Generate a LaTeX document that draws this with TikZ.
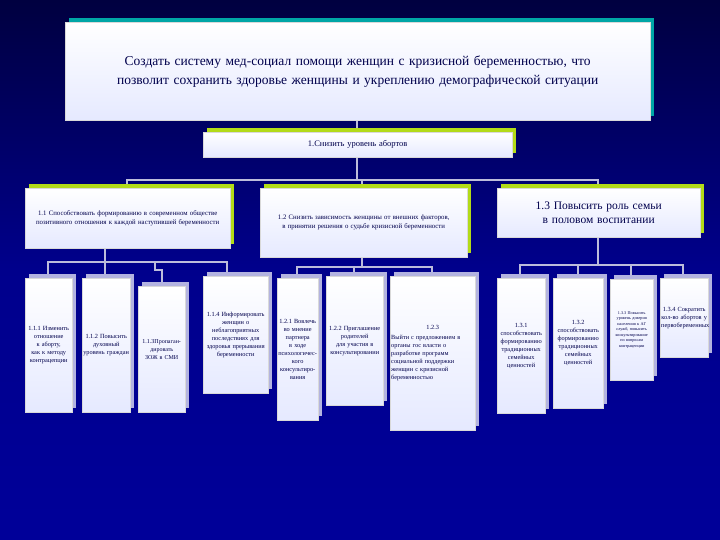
\documentclass[tikz,border=0pt]{standalone}
\usepackage{fontspec}
\setmainfont{Liberation Serif}
\begin{document}
\begin{tikzpicture}[x=1pt,y=-1pt,
 bx/.style={draw=white!70!gray,line width=0.4pt,top color=white,bottom color=cyan!15!blue!10,text=blue!30!black,align=center,inner sep=1pt,anchor=north west},
 line/.style={draw=gray!70!blue!40,line width=2pt}]
\shade[top color=blue!25!black,bottom color=blue!60!black,middle color=blue!55!black] (0,0) rectangle (720,540);
\useasboundingbox (0,0) rectangle (720,540);
\newcommand{\bxx}[8]{% name x1 y1 x2 y2 shadowcolor font text
 \fill[#6] (#2+4,#3-4) rectangle (#4+4,#5-4);
 \node[bx,minimum width=#4-#2,minimum height=#5-#3,text width=#4-#2-2,font=#7] (#1) at (#2,#3) {#8};}
% connectors
\draw[line] (357,120) -- (357,180);
\draw[line] (127,187) |- (598,180) -- (598,187);
\draw[line] (362,180) -- (362,187);
\draw[line] (105,248) -- (105,262);
\draw[line] (48,277) |- (227,262) -- (227,275);
\draw[line] (105,262) -- (105,278);
\draw[line] (155,262) -- (155,270) -- (162,270) -- (162,285);
\draw[line] (362,257) -- (362,267);
\draw[line] (297,277) |- (432,267) -- (432,275);
\draw[line] (354,267) -- (354,275);
\draw[line] (598,237) -- (598,265);
\draw[line] (520,277) |- (683,265) -- (683,277);
\draw[line] (578,265) -- (578,277);
\draw[line] (631,265) -- (631,278);
% boxes
\bxx{top}{65}{22}{650}{120}{teal!70!cyan}{\fontsize{13.5}{19}\selectfont}{Создать систему мед-социал помощи женщин с кризисной беременностью, что позволит сохранить здоровье женщины и укреплению демографической ситуации}
\bxx{l1}{203}{132}{512}{157}{yellow!70!green}{\fontsize{8.5}{10}\selectfont}{1.Снизить уровень абортов}
\bxx{a}{25}{188}{230}{248}{yellow!70!green}{\fontsize{6.8}{9}\selectfont}{1.1 Способствовать формированию в современном обществе позитивного отношения к каждой наступившей беременности}
\bxx{b}{260}{188}{467}{257}{yellow!70!green}{\fontsize{6.8}{9}\selectfont}{1.2 Снизить зависимость женщины от внешних факторов, в принятии решения о судьбе кризисной беременности}
\bxx{c}{497}{188}{700}{237}{yellow!70!green}{\fontsize{11.5}{14}\selectfont}{1.3 Повысить роль семьи в половом воспитании}
\def\sc{cyan!20!blue!30}
\bxx{a1}{25}{278}{72}{412}{\sc}{\fontsize{6.3}{8}\selectfont}{1.1.1 Изменить отношение к аборту, как к методу контрацепции}
\bxx{a2}{82}{278}{130}{412}{\sc}{\fontsize{6.3}{8}\selectfont}{1.1.2 Повысить духовный уровень граждан}
\bxx{a3}{138}{286}{185}{412}{\sc}{\fontsize{6}{8}\selectfont}{1.1.3Пропаган\-дировать ЗОЖ в СМИ}
\bxx{a4}{203}{276}{268}{393}{\sc}{\fontsize{6.3}{8}\selectfont}{1.1.4 Информировать женщин о неблагоприятных последствиях для здоровья прерывания беременности}
\bxx{b1}{277}{278}{318}{420}{\sc}{\fontsize{6.3}{8}\selectfont}{1.2.1 Вовлечь во мнение партнера в ходе психологичес\-кого консультиро\-вания}
\bxx{b2}{326}{276}{383}{405}{\sc}{\fontsize{6.3}{8}\selectfont}{1.2.2 Приглашение родителей для участия в консультировании}
\bxx{b3}{390}{276}{475}{430}{\sc}{\fontsize{6.3}{8}\selectfont}{1.2.3\\[2pt]{\raggedright Выйти с предложением в органы гос власти о разработке программ социальной поддержки женщин с кризисной беременностью\par}}
\bxx{c1}{497}{278}{545}{413}{\sc}{\fontsize{6.3}{8}\selectfont}{1.3.1 способствова\-ть формировани\-ю традиционных семейных ценностей}
\bxx{c2}{553}{278}{603}{408}{\sc}{\fontsize{6.3}{8}\selectfont}{1.3.2 способствовать формированию традиционных семейных ценностей}
\bxx{c3}{610}{279}{653}{380}{\sc}{\fontsize{4.2}{5.5}\selectfont}{1.3.3 Повысить уровень доверия населения к АГ служб, повысить консультирование по вопросам контрацепции}
\bxx{c4}{660}{278}{708}{357}{\sc}{\fontsize{6.3}{8}\selectfont}{1.3.4 Сократить кол-во абортов у первобеременных}
\end{tikzpicture}
\end{document}
